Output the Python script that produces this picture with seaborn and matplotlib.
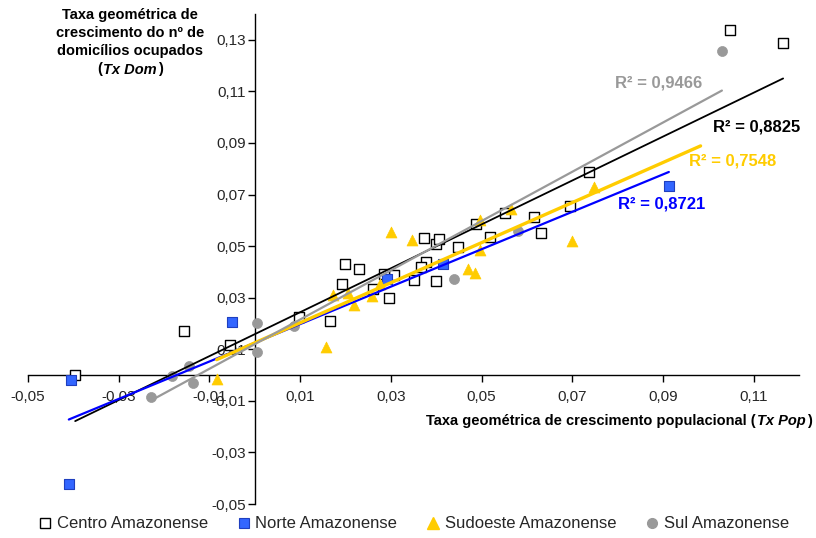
import numpy as np
import pandas as pd
import matplotlib
matplotlib.use("Agg")
import matplotlib.pyplot as plt
import seaborn as sns
from matplotlib.lines import Line2D
from matplotlib.offsetbox import TextArea, HPacker, VPacker, AnchoredOffsetbox

# ---------------- data ----------------
centro_x = [-0.0396, -0.0156, -0.0055, 0.0097, 0.0165, 0.0200, 0.0230, 0.0192, 0.0261,
            0.0308, 0.0285, 0.0297, 0.0352, 0.0373, 0.0399, 0.0378, 0.0366, 0.0399,
            0.0406, 0.0449, 0.0487, 0.0519, 0.0552, 0.0615, 0.0632, 0.0696, 0.0736,
            0.1048, 0.1165]
centro_y = [0.0000, 0.0171, 0.0116, 0.0225, 0.0209, 0.0430, 0.0411, 0.0352, 0.0333,
            0.0388, 0.0391, 0.0298, 0.0368, 0.0532, 0.0508, 0.0437, 0.0420, 0.0366,
            0.0528, 0.0495, 0.0585, 0.0537, 0.0627, 0.0611, 0.0552, 0.0655, 0.0788,
            0.1337, 0.1289]

norte_x = [-0.0405, -0.0410, -0.0050, 0.0291, 0.0416, 0.0913]
norte_y = [-0.0019, -0.0424, 0.0204, 0.0373, 0.0430, 0.0734]

sudoeste_x = [-0.0084, 0.0158, 0.0173, 0.0205, 0.0301, 0.0347, 0.0218, 0.0259,
              0.0277, 0.0470, 0.0485, 0.0496, 0.0496, 0.0564, 0.0700, 0.0749]
sudoeste_y = [-0.0017, 0.0110, 0.0310, 0.0317, 0.0556, 0.0523, 0.0270, 0.0306,
              0.0355, 0.0413, 0.0394, 0.0601, 0.0484, 0.0642, 0.0521, 0.0730]

sul_x = [-0.0228, -0.0183, -0.0145, -0.0136, 0.0006, 0.0004, 0.0086, 0.0439, 0.0580, 0.1030]
sul_y = [-0.0087, -0.0004, 0.0036, -0.0030, 0.0203, 0.0090, 0.0190, 0.0372, 0.0559, 0.1256]

series_names = ["Centro Amazonense", "Norte Amazonense", "Sudoeste Amazonense", "Sul Amazonense"]
r2_labels = ["R² = 0,8825", "R² = 0,8721", "R² = 0,7548", "R² = 0,9466"]

x_ticks = [-0.05, -0.03, -0.01, 0.01, 0.03, 0.05, 0.07, 0.09, 0.11]
x_tick_labels = ["-0,05", "-0,03", "-0,01", "0,01", "0,03", "0,05", "0,07", "0,09", "0,11"]
y_ticks = [-0.05, -0.03, -0.01, 0.01, 0.03, 0.05, 0.07, 0.09, 0.11, 0.13]
y_tick_labels = ["-0,05", "-0,03", "-0,01", "0,01", "0,03", "0,05", "0,07", "0,09", "0,11", "0,13"]

# trendline forward forecast (Sudoeste trendline extends beyond its last point)
fit_end_extra = [0.0, 0.0, 0.0234, 0.0]

# ---------------- style ----------------
sns.set_theme(style="white")
plt.rcParams['font.family'] = ['Liberation Sans', 'DejaVu Sans']

fig = plt.figure(figsize=(8.16, 5.38), dpi=100)
ax = fig.add_axes([28 / 816, 1 - 504 / 538, 771 / 816, 490 / 538])
ax.set_xlim(-0.05, 0.12)
ax.set_ylim(-0.05, 0.14)

xs = [centro_x, norte_x, sudoeste_x, sul_x]
ys = [centro_y, norte_y, sudoeste_y, sul_y]

marker_styles = [
    dict(marker='s', s=48, facecolor='white', edgecolor='black', linewidth=1.0),
    dict(marker='s', s=48, facecolor='#3366FF', edgecolor='#1F3FBF', linewidth=0.8),
    dict(marker='^', s=62, facecolor='#FFCC00', edgecolor='#FFCC00', linewidth=0.5),
    dict(marker='o', s=52, facecolor='#999999', edgecolor='#999999', linewidth=0.5),
]
line_styles = [
    dict(color='black', linewidth=1.3),
    dict(color='#0000FF', linewidth=1.6),
    dict(color='#FFCC00', linewidth=2.4),
    dict(color='#999999', linewidth=1.6),
]
label_colors = ['black', '#0000FF', '#FFCC00', '#999999']
label_pos = [(0.1011, 0.0961), (0.0800, 0.0663), (0.0958, 0.0829), (0.0795, 0.1132)]

for name, x, y, ms in zip(series_names, xs, ys, marker_styles):
    df = pd.DataFrame({"x": x, "y": y})
    sns.scatterplot(data=df, x="x", y="y", ax=ax, zorder=3, legend=False, **ms)

for x, y, ls, extra in zip(xs, ys, line_styles, fit_end_extra):
    b, a = np.polyfit(x, y, 1)
    fx = np.array([min(x), max(x) + extra])
    fdf = pd.DataFrame({"x": fx, "y": a + b * fx})
    sns.lineplot(data=fdf, x="x", y="y", ax=ax, zorder=4, **ls)

for lab, col, (px, py) in zip(r2_labels, label_colors, label_pos):
    ax.text(px, py, lab, color=col, fontsize=12, fontweight='bold',
            ha='left', va='center', zorder=5)

# axes through the origin
for s in ['top', 'right']:
    ax.spines[s].set_visible(False)
ax.spines['left'].set_position(('data', 0))
ax.spines['bottom'].set_position(('data', 0))
for s in ['left', 'bottom']:
    ax.spines[s].set_color('black')
    ax.spines[s].set_linewidth(1.0)

ax.set_xticks(x_ticks)
ax.set_xticklabels(x_tick_labels)
ax.set_yticks(y_ticks)
ax.set_yticklabels(y_tick_labels)
ax.tick_params(axis='x', direction='out', length=5, width=1, color='black',
               pad=6, labelsize=11, bottom=True)
ax.tick_params(axis='y', direction='out', length=5, width=1, color='black',
               pad=1.5, labelsize=11, left=True)
ax.set_xlabel("")
ax.set_ylabel("")
ax.grid(False)

# axis titles
tp = dict(fontsize=10.5, fontweight='bold', color='black')
tpi = dict(fontsize=10.5, fontweight='bold', fontstyle='italic', color='black')

xt = HPacker(children=[TextArea("Taxa geométrica de crescimento populacional (", textprops=tp),
                       TextArea("Tx Pop", textprops=tpi),
                       TextArea(")", textprops=tp)], align="baseline", pad=0, sep=1)
xbox = AnchoredOffsetbox(loc='center right', child=xt, frameon=False, pad=0, borderpad=0,
                         bbox_to_anchor=(812 / 816, 1 - 421 / 538),
                         bbox_transform=fig.transFigure)
fig.add_artist(xbox)

last = HPacker(children=[TextArea("(", textprops=tp), TextArea("Tx Dom", textprops=tpi),
                         TextArea(")", textprops=tp)], align="baseline", pad=0, sep=1)
yt = VPacker(children=[TextArea("Taxa geométrica de", textprops=tp),
                       TextArea("crescimento do nº de", textprops=tp),
                       TextArea("domicílios ocupados", textprops=tp),
                       last], align="center", pad=0, sep=3)
ybox = AnchoredOffsetbox(loc='upper center', child=yt, frameon=False, pad=0, borderpad=0,
                         bbox_to_anchor=(130 / 816, 1 - 8 / 538),
                         bbox_transform=fig.transFigure)
fig.add_artist(ybox)

# legend
handles = [
    Line2D([], [], linestyle='none', marker='s', markersize=7, markerfacecolor='white',
           markeredgecolor='black', markeredgewidth=1.0),
    Line2D([], [], linestyle='none', marker='s', markersize=7, markerfacecolor='#3366FF',
           markeredgecolor='#1F3FBF', markeredgewidth=0.8),
    Line2D([], [], linestyle='none', marker='^', markersize=8, markerfacecolor='#FFCC00',
           markeredgecolor='#FFCC00'),
    Line2D([], [], linestyle='none', marker='o', markersize=7, markerfacecolor='#999999',
           markeredgecolor='#999999'),
]
fig.legend(handles, series_names, loc='center', bbox_to_anchor=(414 / 816, 1 - 524 / 538),
           ncol=4, frameon=False, fontsize=12, handlelength=0.7, handletextpad=0.35,
           columnspacing=1.8, borderpad=0, borderaxespad=0)

fig.savefig("out.png", dpi=100)
